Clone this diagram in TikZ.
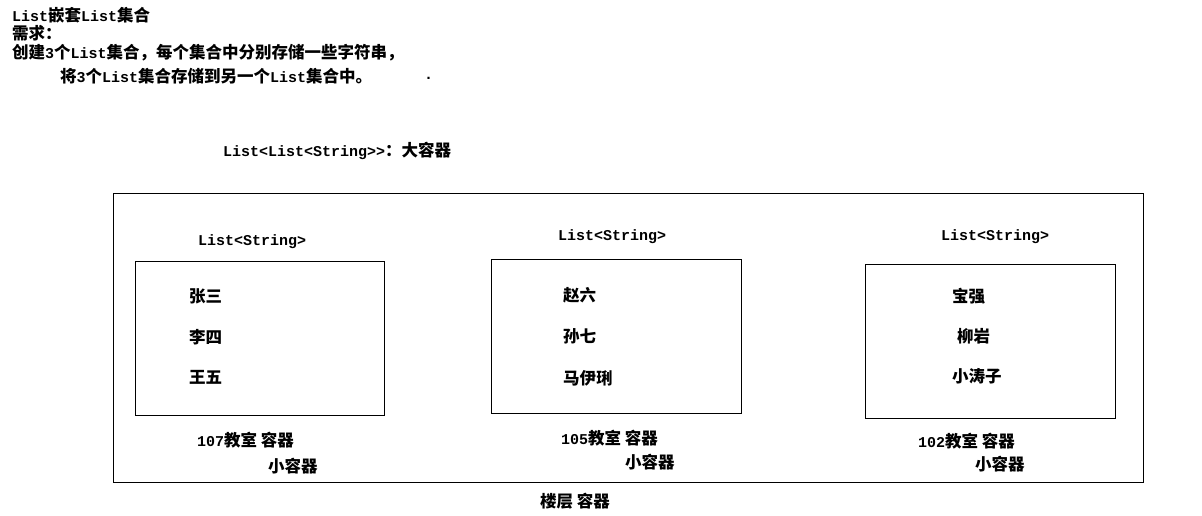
\documentclass[tikz,border=0pt]{standalone}
\usepackage{fontspec}
\setmainfont[Ligatures=NoCommon]{Liberation Mono}
\newfontfamily\cjk[Scale=1.1]{Noto Sans CJK SC}
\begin{document}
\begin{tikzpicture}[x=1pt,y=-1pt,
  txt/.style={anchor=west,inner sep=0pt,font=\fontsize{15}{17}\selectfont\bfseries},
  box/.style={draw=black,line width=1pt}]
\useasboundingbox[fill=white] (0,0) rectangle (1202,515);
% heading text
\node[txt] (t1) at (12,15) {List{\cjk 嵌套}List{\cjk 集合}};
\node[txt] (t2) at (12,33) {\cjk 需求：};
\node[txt] (t3) at (12,53) {{\cjk 创建}3{\cjk 个}List{\cjk 集合，每个集合中分别存储一些字符串，}};
\node[txt] (t4) at (60,76) {{\cjk 将}3{\cjk 个}List{\cjk 集合存储到另一个}List{\cjk 集合中。}};
\node[txt] (dot) at (424,78) {.};
\node[txt] (big) at (223,151) {List<List<String>{}>{\cjk ：大容器}};
% containers
\draw[box] (113,193) rectangle (1143,482);
\node[box,minimum width=249pt,minimum height=154pt,inner sep=0pt] (b1) at (259.5,338) {};
\node[box,minimum width=250pt,minimum height=154pt,inner sep=0pt] (b2) at (616,336) {};
\node[box,minimum width=250pt,minimum height=154pt,inner sep=0pt] (b3) at (990,341) {};
% labels
\node[txt] (l1) at (198,242) {List<String>};
\node[txt] (l2) at (558,237) {List<String>};
\node[txt] (l3) at (941,237) {List<String>};
% items
\node[txt] (a1) at (189,296) {\cjk 张三};
\node[txt] (a2) at (189,337) {\cjk 李四};
\node[txt] (a3) at (189,377) {\cjk 王五};
\node[txt] (c1) at (563,295) {\cjk 赵六};
\node[txt] (c2) at (563,336) {\cjk 孙七};
\node[txt] (c3) at (563,378) {\cjk 马伊琍};
\node[txt] (d1) at (952,296) {\cjk 宝强};
\node[txt] (d2) at (957,336) {\cjk 柳岩};
\node[txt] (d3) at (952,376) {\cjk 小涛子};
% room captions
\node[txt] (r1) at (197,440) {107{\cjk 教室 容器}};
\node[txt] (s1) at (268,466) {\cjk 小容器};
\node[txt] (r2) at (561,438) {105{\cjk 教室 容器}};
\node[txt] (s2) at (625,462) {\cjk 小容器};
\node[txt] (r3) at (918,441) {102{\cjk 教室 容器}};
\node[txt] (s3) at (975,464) {\cjk 小容器};
\node[txt] (fl) at (540,501) {\cjk 楼层 容器};
\end{tikzpicture}
\end{document}
